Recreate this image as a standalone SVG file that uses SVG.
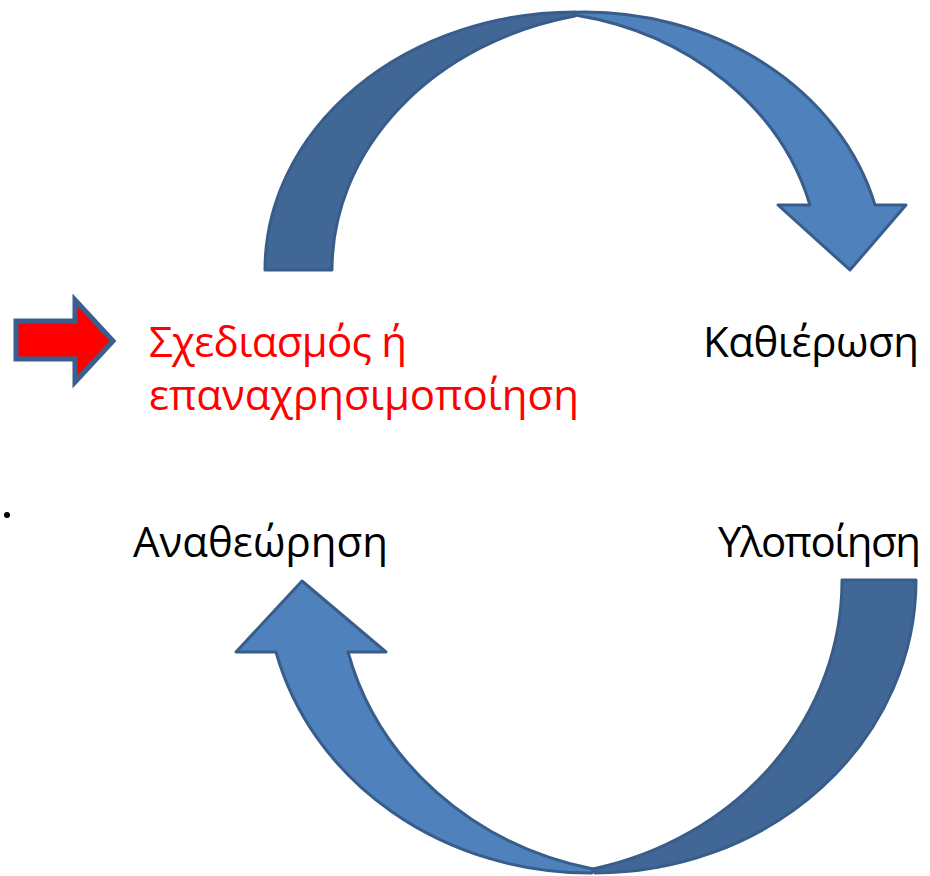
<svg xmlns="http://www.w3.org/2000/svg" width="930" height="876" viewBox="0 0 930 876">
<style>
.lbl{font-family:"Open Sans","Noto Sans","Liberation Sans",sans-serif;font-size:42px;fill:#000}
.red{fill:#FF0000}
.back{fill:#416796;stroke:#385D8A;stroke-width:3;stroke-linejoin:round}
.front{fill:#4F81BD;stroke:#385D8A;stroke-width:3;stroke-linejoin:round}
</style>
<rect width="930" height="876" fill="#fff"/>
<g id="connectors">
<g id="arrow-top">
<path class="back" d="M265,270 A310,258 0 0 1 575,12 L575,16 A310,260 0 0 0 332,270 Z"/>
<path class="front" d="M575,15 L575,12.2 A300,258 0 0 1 875,205 L906,205 L850,270 L778,205 L810,205 A300,259 0 0 0 575,15 Z"/>
</g>
<g id="arrow-bottom">
<path class="back" d="M916,580 A321,293 0 0 1 595,873 L593,869 A321,296 0 0 0 842,580 Z"/>
<path class="front" d="M593,869 A324,296 0 0 1 348,652 L386,652 L302,581 L236,652 L276,652 A324,293 0 0 0 592,873 Z"/>
</g>
<g id="arrow-entry">
<path d="M16,321 L75,321 L75,300 L113,341 L75,382 L75,359 L16,359 Z" fill="#FF0000" stroke="#3A5F8F" stroke-width="5" stroke-linejoin="miter"/>
</g>
</g>
<g id="node-design">
<text class="lbl red" x="149" y="357" textLength="258">Σχεδιασμός ή</text>
<text class="lbl red" x="149" y="410" textLength="430">επαναχρησιμοποίηση</text>
</g>
<g id="node-establish">
<text class="lbl" x="703" y="357" textLength="216">Καθιέρωση</text>
</g>
<g id="node-implement">
<text class="lbl" x="718" y="557" textLength="203">Υλοποίηση</text>
</g>
<g id="node-review">
<text class="lbl" x="133" y="557" textLength="255">Αναθεώρηση</text>
</g>
<circle id="dot" cx="7" cy="515" r="3" fill="#000"/>
</svg>
